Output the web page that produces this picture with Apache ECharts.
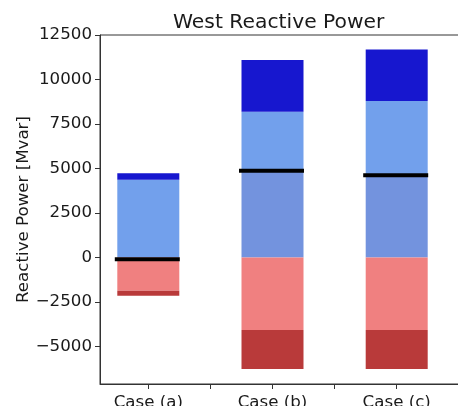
<!DOCTYPE html>
<html>
<head>
<meta charset="utf-8">
<script src="https://cdn.jsdelivr.net/npm/echarts@6/dist/echarts.min.js"></script>
<style>html,body{margin:0;padding:0;background:#fff}#c{width:458px;height:406px}</style>
</head>
<body>
<div id="c"></div>
<script>
const categories = ['Case (a)', 'Case (b)', 'Case (c)'];
const mediumBlue = [0, 4900, 4630];
const lightBlue = [4370, 3290, 4160];
const darkBlue = [360, 2900, 2900];
const lightRed = [-1860, -4070, -4070];
const darkRed = [-280, -2190, -2190];
const netLine = [-100, 4880, 4620];
const yTicks = [-5000, -2500, 0, 2500, 5000, 7500, 10000, 12500];
const xTicks = [0, 0.5, 1, 1.5, 2, 2.5];

const font = 'DejaVu Sans';
const yMin = -7100, yMax = 12500;
const lblSize = 16.67;

function barSeries(name, data, color) {
  return {
    name: name, type: 'bar', stack: 'total', barWidth: 62,
    xAxisIndex: 1, yAxisIndex: 1,
    data: data,
    itemStyle: { color: color },
    emphasis: { disabled: true }
  };
}

const chart = echarts.init(document.getElementById('c'), null, { renderer: 'canvas' });
chart.setOption({
  animation: false,
  backgroundColor: '#ffffff',
  title: {
    text: 'West Reactive Power', left: 168, top: 8,
    textStyle: { fontFamily: font, fontSize: 20.3, fontWeight: 'normal', color: '#1a1a1a' }
  },
  grid: [
    { left: 100, width: 390, top: 35, bottom: 22, show: true, borderColor: '#333', borderWidth: 1, containLabel: false, outerBoundsMode: 'none' },
    { left: 86.2, width: 372.6, top: 35, bottom: 22, containLabel: false, outerBoundsMode: 'none' }
  ],
  xAxis: [{
    type: 'value', gridIndex: 0, min: -0.389, max: 2.751,
    splitLine: { show: false },
    axisLine: { show: true, onZero: false, lineStyle: { color: '#333', width: 1 } },
    axisTick: { show: true, length: 5, customValues: xTicks, lineStyle: { color: '#333' } },
    axisLabel: {
      customValues: [0, 1, 2], margin: 10,
      formatter: v => categories[Math.round(v)] || '',
      fontFamily: font, fontSize: lblSize, color: '#1a1a1a'
    }
  }, {
    type: 'category', gridIndex: 1, data: categories, show: false
  }],
  yAxis: [{
    type: 'value', gridIndex: 0, min: yMin, max: yMax,
    name: 'Reactive Power [Mvar]', nameLocation: 'middle', nameGap: 68, nameMoveOverlap: false,
    nameTextStyle: { fontFamily: font, fontSize: lblSize, color: '#1a1a1a' },
    splitLine: { show: false },
    axisLine: { show: true, onZero: false, lineStyle: { color: '#333', width: 1 } },
    axisTick: { show: true, length: 5, customValues: yTicks, lineStyle: { color: '#333' } },
    axisLabel: {
      customValues: yTicks, margin: 8, fontFamily: font, fontSize: lblSize, color: '#1a1a1a',
      formatter: v => (v < 0 ? '\u2212' + Math.abs(v) : String(v))
    }
  }, {
    type: 'value', gridIndex: 1, min: yMin, max: yMax, show: false, splitLine: { show: false }
  }],
  series: [
    barSeries('Base', mediumBlue, '#7393de'),
    barSeries('Mid', lightBlue, '#72a0ec'),
    barSeries('Top', darkBlue, '#1717cf'),
    barSeries('Neg1', lightRed, '#f08080'),
    barSeries('Neg2', darkRed, '#b93a3a'),
    {
      name: 'Net', type: 'scatter', symbol: 'rect', symbolSize: [65, 4], symbolOffset: [-1, 0],
      xAxisIndex: 1, yAxisIndex: 1,
      data: netLine, itemStyle: { color: '#000', opacity: 1 }, z: 10, emphasis: { disabled: true }
    }
  ]
});
</script>
</body>
</html>
